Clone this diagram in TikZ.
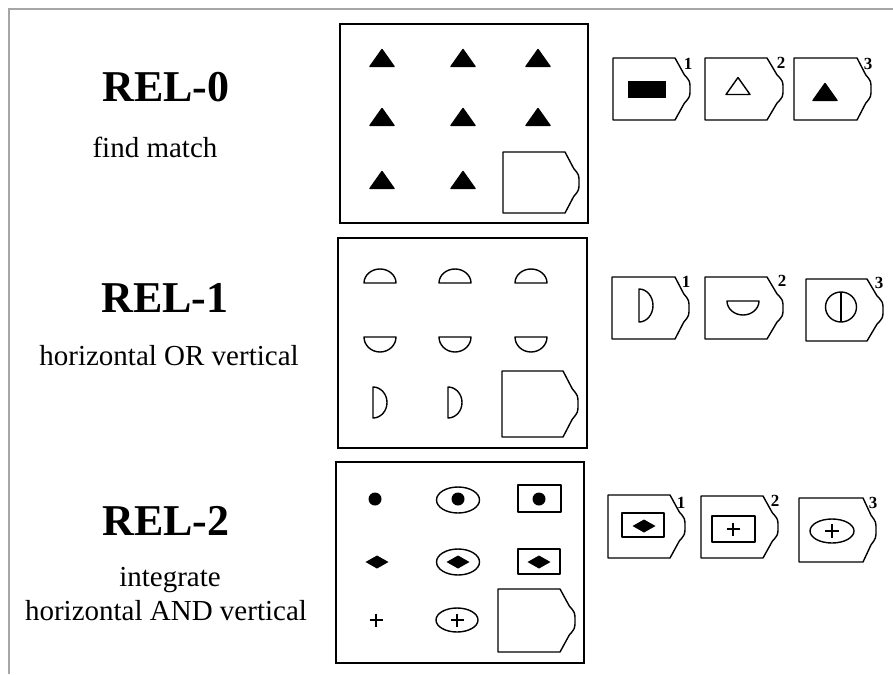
\documentclass[tikz,border=0pt]{standalone}
\usepackage{fontspec}
\setmainfont{Liberation Serif}
\usepackage{graphicx}
\newcommand\tagbox[5]{%
  \pgfmathsetmacro\tbM{(#2+#5)/2}%
  \pgfmathsetmacro\tbA{#3+0.62*(#4-#3)}%
  \pgfmathsetmacro\tbU{#2+0.27*(#5-#2)}%
  \pgfmathsetmacro\tbD{#5-0.27*(#5-#2)}%
  \pgfmathsetmacro\tbP{\tbU+0.45*(\tbM-\tbU)}%
  \pgfmathsetmacro\tbQ{\tbD-0.45*(\tbD-\tbM)}%
  \draw[shp] (#1,#2) -- (#3,#2) -- (\tbA,\tbU) .. controls (#4,\tbP) .. (#4,\tbM) .. controls (#4,\tbQ) .. (\tbA,\tbD) -- (#3,#5) -- (#1,#5) -- cycle;
}
\newcommand\ftri[3]{\draw[shp,fill=#3] (#1-12,#2+8.5) -- (#1+12,#2+8.5) -- (#1,#2-8.5) -- cycle;}
\newcommand\fdia[2]{\fill (#1-11.5,#2) -- (#1,#2-6.5) -- (#1+11.5,#2) -- (#1,#2+6.5) -- cycle;}
\newcommand\fplus[2]{\draw[line width=2pt] (#1-6.5,#2) -- (#1+6.5,#2) (#1,#2-6.5) -- (#1,#2+6.5);}
\tikzset{
  shp/.style={line width=1.4pt, line join=round},
  frame/.style={line width=1.6pt},
  ttl/.style={anchor=base, inner sep=0pt, font=\fontsize{44}{48}\selectfont\bfseries},
  sub/.style={anchor=base, inner sep=0pt, font=\fontsize{29}{32}\selectfont},
  num/.style={anchor=center, inner sep=0pt, font=\fontsize{17}{19}\selectfont\bfseries},
}
\begin{document}
\begin{tikzpicture}[x=1pt,y=-1pt]
\useasboundingbox (0,0) rectangle (893,674);
\fill[white] (0,0) rectangle (893,674);
% outer frame
\draw[gray!70, line width=1.6pt] (9,674) -- (9,9) -- (893,9);

% left labels
\node[ttl] (rel0) at (166,102) {REL-0};
\node[sub] (sub0) at (155,157) {find match};
\node[ttl] (rel1) at (165,312) {REL-1};
\node[sub] (sub1) at (169,365) {horizontal OR vertical};
\node[ttl] (rel2) at (166,535) {REL-2};
\node[sub] (sub2a) at (170,586) {integrate};
\node[sub] (sub2b) at (166,620) {horizontal AND vertical};

% ===== panel REL-0 =====
\draw[frame] (340,24) rectangle (588,223);
\foreach \x in {382,463,538}{\ftri{\x}{58}{black}\ftri{\x}{117}{black}}
\ftri{382}{180}{black}\ftri{463}{180}{black}
\tagbox{503}{152}{565}{579}{213}
% options
\tagbox{613}{58}{675}{690}{120}
\fill (628,81) rectangle (666,98);
\node[num] (n01) at (688,64) {1};
\tagbox{705}{58}{767}{783}{120}
\ftri{738}{86}{white}
\node[num] (n02) at (781,63) {2};
\tagbox{794}{58}{857}{871}{120}
\ftri{825}{92}{black}
\node[num] (n03) at (868,64) {3};

% ===== panel REL-1 =====
\draw[frame] (338,238) rectangle (587,448);
\foreach \x in {380,455,531}{
  \draw[shp] (\x-16,283) arc[start angle=180, end angle=360, x radius=16, y radius=14] -- cycle;
  \draw[shp] (\x-16,337) arc[start angle=180, end angle=0, x radius=16, y radius=15] -- cycle;
}
\draw[shp] (373,387) arc[start angle=-90, end angle=90, x radius=14, y radius=15.5] -- cycle;
\draw[shp] (448,387) arc[start angle=-90, end angle=90, x radius=14, y radius=15.5] -- cycle;
\tagbox{502}{371}{563}{578}{437}
% options
\tagbox{612}{277}{675}{689}{339}
\draw[shp] (639,289) arc[start angle=-90, end angle=90, x radius=14, y radius=16.5] -- cycle;
\node[num] (n11) at (686,282) {1};
\tagbox{705}{277}{767}{783}{339}
\draw[shp] (727,301) arc[start angle=180, end angle=0, x radius=16, y radius=14] -- cycle;
\node[num] (n12) at (782,281) {2};
\tagbox{806}{279}{867}{883}{341}
\draw[shp] (841,307) ellipse[x radius=15.5, y radius=15];
\draw[shp] (841,292) -- (841,322);
\node[num] (n13) at (879,283) {3};

% ===== panel REL-2 =====
\draw[frame] (336,462) rectangle (584,663);
% row 1
\fill (375,499) circle[radius=6.5];
\draw[shp] (458,500) ellipse[x radius=21.5, y radius=13];
\fill (458,499) circle[radius=6.5];
\draw[shp] (518,485) rectangle (561,512);
\fill (539,499) circle[radius=6.5];
% row 2
\fdia{377}{562}
\draw[shp] (458,562) ellipse[x radius=21.5, y radius=13];
\fdia{458}{562}
\draw[shp] (518,549) rectangle (560,574);
\fdia{539}{562}
% row 3
\fplus{376}{620}
\draw[shp] (457,620) ellipse[x radius=21, y radius=12];
\fplus{457}{620}
\tagbox{498}{589}{560}{575}{652}
% options
\tagbox{608}{495}{670}{685}{558}
\draw[shp] (622,513) rectangle (664,537);
\fdia{644}{526}
\node[num] (n21) at (681,503) {1};
\tagbox{701}{496}{763}{778}{558}
\draw[shp] (712,516) rectangle (755,542);
\fplus{733}{529}
\node[num] (n22) at (775,501) {2};
\tagbox{799}{498}{863}{876}{562}
\draw[shp] (832,531) ellipse[x radius=22, y radius=12];
\draw[line width=1.4pt] (825,531) -- (839,531) (832,524) -- (832,538);
\node[num] (n23) at (873,503) {3};
\end{tikzpicture}
\end{document}
